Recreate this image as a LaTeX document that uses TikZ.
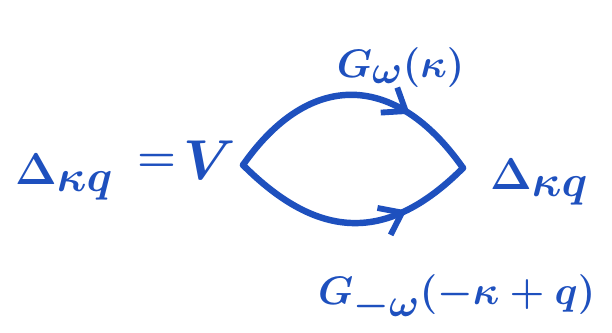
\documentclass[tikz,border=0pt]{standalone}
\usepackage{fix-cm}
\usepackage{amsmath}
\usetikzlibrary{arrows.meta,decorations.markings}
\definecolor{inkblue}{RGB}{30,80,190}
\tikzset{
  ink/.style={text=inkblue, inner sep=0pt},
  big/.style={ink, font=\fontsize{38}{44}\selectfont\boldmath},
  lbl/.style={ink, font=\fontsize{34}{40}\selectfont\boldmath},
  huge/.style={ink, font=\fontsize{48}{54}\selectfont\boldmath},
  prop/.style={draw=inkblue, line width=5.5pt, line cap=round,
    postaction={decorate},
    decoration={markings, mark=at position 0.72 with
      {\arrow[inkblue, line width=5pt, line cap=round]{Straight Barb[length=6mm, width=9mm]}}}},
}
\begin{document}
\begin{tikzpicture}
  \useasboundingbox (0,0) rectangle (18.36,9.99);
  % left hand side
  \node[big, anchor=base west] (gapL) at (0.45,4.44) {$\Delta_{\textstyle\kappa q}$};
  \node[big] (eq) at (4.7,5.1) {$=$};
  \node[huge, anchor=base] (V) at (6.3,4.59) {$V$};
  % bubble
  \coordinate (L) at (7.29,5.04);
  \coordinate (R) at (13.89,4.95);
  \draw[prop] (L) .. controls +(55:3.5) and +(125:3.5) .. (R);
  \draw[prop] (L) .. controls +(-45:3.2) and +(-135:3.2) .. (R);
  \node[big, anchor=base west] (gapR) at (14.7,4.29) {$\Delta_{\textstyle\kappa q}$};
  % propagator labels
  \node[lbl, anchor=base west] (Gup) at (10.1,7.65) {$G_{\textstyle\omega}(\kappa)$};
  \node[lbl, anchor=base west] (Gdn) at (9.54,0.84) {$G_{\textstyle-\omega}(-\kappa+q)$};
\end{tikzpicture}
\end{document}
